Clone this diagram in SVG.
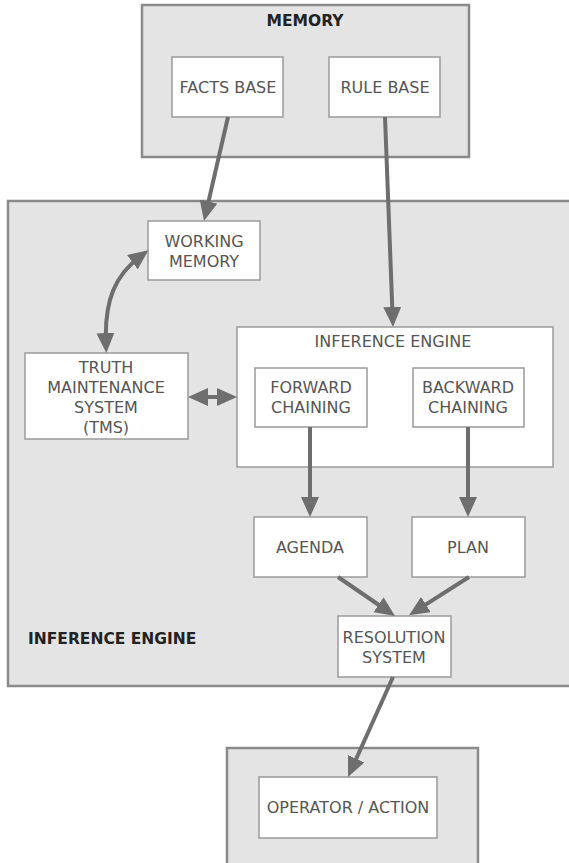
<svg xmlns="http://www.w3.org/2000/svg" width="569" height="863" viewBox="0 0 569 863">
  <style>
    .panel { fill: #e4e4e4; stroke: #8a8a8a; stroke-width: 2.5; }
    .box { fill: #ffffff; stroke: #9a9a9a; stroke-width: 1.5; }
    .lbl { font-family: "DejaVu Sans", Verdana, sans-serif; font-size: 16px; fill: #555555; text-anchor: middle; }
    .title { font-family: "DejaVu Sans", Verdana, sans-serif; font-size: 15.5px; font-weight: bold; fill: #222222; }
    .link { fill: none; stroke: #6e6e6e; stroke-width: 4; }
  </style>
  <defs>
    <marker id="head" viewBox="0 0 20 18" refX="12" refY="9" markerWidth="20" markerHeight="18" markerUnits="userSpaceOnUse" orient="auto-start-reverse">
      <path d="M0,0 L20,9 L0,18 z" fill="#6e6e6e"/>
    </marker>
  </defs>

  <rect width="569" height="863" fill="#ffffff"/>

  <!-- Memory panel -->
  <g id="memory">
    <rect class="panel" x="142" y="5" width="327" height="152"/>
    <text class="title" x="305" y="26" text-anchor="middle">MEMORY</text>
  </g>
  <g id="facts-base">
    <rect class="box" x="172" y="57" width="111" height="60"/>
    <text class="lbl" x="228" y="93">FACTS BASE</text>
  </g>
  <g id="rule-base">
    <rect class="box" x="329" y="57" width="111" height="60"/>
    <text class="lbl" x="385" y="93">RULE BASE</text>
  </g>

  <!-- Inference engine panel -->
  <g id="inference-panel">
    <rect class="panel" x="8" y="201" width="570" height="485"/>
    <text class="title" x="28" y="644" font-size="16px">INFERENCE ENGINE</text>
  </g>
  <g id="working-memory">
    <rect class="box" x="148" y="221" width="112" height="59"/>
    <text class="lbl" x="204" y="247">WORKING</text>
    <text class="lbl" x="204" y="267">MEMORY</text>
  </g>
  <g id="tms">
    <rect class="box" x="25" y="353" width="163" height="86"/>
    <text class="lbl" x="106" y="373">TRUTH</text>
    <text class="lbl" x="106" y="393">MAINTENANCE</text>
    <text class="lbl" x="106" y="413">SYSTEM</text>
    <text class="lbl" x="106" y="433">(TMS)</text>
  </g>
  <g id="inference-engine">
    <rect class="box" x="237" y="327" width="316" height="140"/>
    <text class="lbl" x="393" y="347">INFERENCE ENGINE</text>
  </g>
  <g id="forward-chaining">
    <rect class="box" x="255" y="368" width="112" height="59"/>
    <text class="lbl" x="311" y="393">FORWARD</text>
    <text class="lbl" x="311" y="413">CHAINING</text>
  </g>
  <g id="backward-chaining">
    <rect class="box" x="413" y="368" width="111" height="59"/>
    <text class="lbl" x="468" y="393">BACKWARD</text>
    <text class="lbl" x="468" y="413">CHAINING</text>
  </g>
  <g id="agenda">
    <rect class="box" x="254" y="517" width="113" height="60"/>
    <text class="lbl" x="310" y="553">AGENDA</text>
  </g>
  <g id="plan">
    <rect class="box" x="412" y="517" width="113" height="60"/>
    <text class="lbl" x="468" y="553">PLAN</text>
  </g>
  <g id="resolution-system">
    <rect class="box" x="338" y="616" width="113" height="61"/>
    <text class="lbl" x="394" y="643">RESOLUTION</text>
    <text class="lbl" x="394" y="663">SYSTEM</text>
  </g>

  <!-- Operator panel -->
  <g id="operator-panel">
    <rect class="panel" x="227" y="748" width="251" height="125"/>
  </g>
  <g id="operator-action">
    <rect class="box" x="259" y="777" width="178" height="61"/>
    <text class="lbl" x="348" y="813">OPERATOR / ACTION</text>
  </g>

  <!-- Connectors -->
  <g id="connectors">
    <line class="link" x1="228" y1="117" x2="205.8" y2="213.2" marker-end="url(#head)"/>
    <line class="link" x1="385" y1="117" x2="392.7" y2="319" marker-end="url(#head)"/>
    <path class="link" d="M106,345 C104,300 115,275 142,255" marker-start="url(#head)" marker-end="url(#head)"/>
    <line class="link" x1="196" y1="397" x2="229" y2="397" marker-start="url(#head)" marker-end="url(#head)"/>
    <line class="link" x1="310" y1="427" x2="310" y2="509" marker-end="url(#head)"/>
    <line class="link" x1="468" y1="427" x2="468" y2="509" marker-end="url(#head)"/>
    <line class="link" x1="338" y1="577" x2="388.4" y2="611.5" marker-end="url(#head)"/>
    <line class="link" x1="469" y1="577" x2="415.8" y2="610.9" marker-end="url(#head)"/>
    <line class="link" x1="393" y1="677" x2="351.3" y2="769.7" marker-end="url(#head)"/>
  </g>
</svg>
